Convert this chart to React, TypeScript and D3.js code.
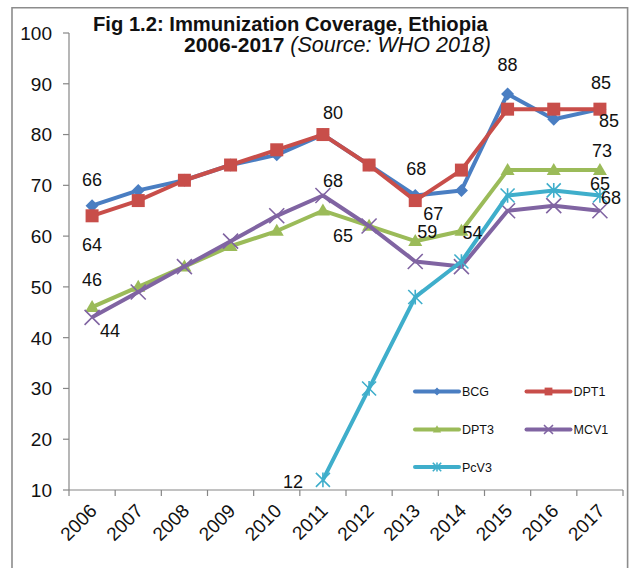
import React from "react";
import * as d3 from "d3";

// Coverage (%) by year, WHO 2018
const years = ["2006", "2007", "2008", "2009", "2010", "2011", "2012", "2013", "2014", "2015", "2016", "2017"];
const bcg = [66, 69, 71, 74, 76, 80, 74, 68, 69, 88, 83, 85];
const dpt1 = [64, 67, 71, 74, 77, 80, 74, 67, 73, 85, 85, 85];
const dpt3 = [46, 50, 54, 58, 61, 65, 62, 59, 61, 73, 73, 73];
const mcv1 = [44, 49, 54, 59, 64, 68, 62, 55, 54, 65, 66, 65];
const pcv3 = [null, null, null, null, null, 12, 30, 48, 55, 68, 69, 68];
const yTicks = [10, 20, 30, 40, 50, 60, 70, 80, 90, 100];

type Marker = "diamond" | "square" | "triangle" | "cross" | "star";

const series: { name: string; values: (number | null)[]; color: string; marker: Marker }[] = [
  { name: "BCG", values: bcg, color: "#4A7EC2", marker: "diamond" },
  { name: "DPT1", values: dpt1, color: "#C84E4A", marker: "square" },
  { name: "DPT3", values: dpt3, color: "#9BBB59", marker: "triangle" },
  { name: "MCV1", values: mcv1, color: "#8064A2", marker: "cross" },
  { name: "PcV3", values: pcv3, color: "#3FAECB", marker: "star" },
];

// Which points carry a value label, and where the label sits relative to the point
const labelPlacement: { s: string; year: string; dx: number; dy: number }[] = [
  { s: "BCG", year: "2006", dx: 0, dy: -26 },
  { s: "DPT1", year: "2006", dx: 0, dy: 29 },
  { s: "DPT3", year: "2006", dx: 0, dy: -28 },
  { s: "MCV1", year: "2006", dx: 18, dy: 13 },
  { s: "DPT1", year: "2011", dx: 10, dy: -22 },
  { s: "MCV1", year: "2011", dx: 10, dy: -15 },
  { s: "DPT3", year: "2011", dx: 20, dy: 25 },
  { s: "PcV3", year: "2011", dx: -30, dy: 2 },
  { s: "BCG", year: "2013", dx: 1, dy: -27 },
  { s: "DPT1", year: "2013", dx: 18, dy: 13 },
  { s: "DPT3", year: "2013", dx: 12, dy: -10 },
  { s: "MCV1", year: "2014", dx: 11, dy: -34 },
  { s: "BCG", year: "2015", dx: 0, dy: -29 },
  { s: "DPT1", year: "2017", dx: 1, dy: -27 },
  { s: "BCG", year: "2017", dx: 9, dy: 11 },
  { s: "DPT3", year: "2017", dx: 2, dy: -20 },
  { s: "MCV1", year: "2017", dx: 0, dy: -27 },
  { s: "PcV3", year: "2017", dx: 11, dy: 2 },
];

const W = 632;
const H = 568;
const plot = { left: 69, right: 623, top: 33, bottom: 490 };
const FONT = "'Liberation Sans', Arial, sans-serif";

function MarkerShape({ type, x, y, color, k = 1 }: { type: Marker; x: number; y: number; color: string; k?: number }) {
  if (type === "diamond") {
    const r = 6.5 * k;
    return <path d={`M${x},${y - r}L${x + r},${y}L${x},${y + r}L${x - r},${y}Z`} fill={color} />;
  }
  if (type === "square") {
    const r = 6.5 * k;
    return <rect x={x - r} y={y - r} width={2 * r} height={2 * r} fill={color} />;
  }
  if (type === "triangle") {
    const w = 7 * k;
    const h = 12 * k;
    return <path d={`M${x},${y - h * 0.6}L${x + w},${y + h * 0.4}L${x - w},${y + h * 0.4}Z`} fill={color} />;
  }
  if (type === "cross") {
    const r = 7.5 * k;
    return (
      <path d={`M${x - r},${y - r}L${x + r},${y + r}M${x - r},${y + r}L${x + r},${y - r}`} stroke={color} strokeWidth={1.6} fill="none" />
    );
  }
  const r = 7 * k;
  return (
    <path
      d={`M${x - r},${y - r}L${x + r},${y + r}M${x - r},${y + r}L${x + r},${y - r}M${x},${y - r * 1.05}L${x},${y + r * 1.05}`}
      stroke={color}
      strokeWidth={1.6}
      fill="none"
    />
  );
}

export default function App() {
  const x = d3.scaleBand<string>().domain(years).range([plot.left, plot.right]).paddingInner(0).paddingOuter(0);
  const y = d3.scaleLinear().domain([10, 100]).range([plot.bottom, plot.top]);
  const cx = (yr: string) => (x(yr) as number) + x.bandwidth() / 2;

  const line = d3
    .line<number | null>()
    .defined((v) => v !== null)
    .x((_, i) => cx(years[i]))
    .y((v) => y(v as number));

  const boundaries = years.map((yr) => x(yr) as number).concat([plot.right]);

  const legendItems = [
    { s: series[0], lx: 415, ly: 391.5 },
    { s: series[1], lx: 526.5, ly: 391.5 },
    { s: series[2], lx: 415, ly: 429.5 },
    { s: series[3], lx: 526.5, ly: 429.5 },
    { s: series[4], lx: 415, ly: 467 },
  ];

  return (
    <svg width={W} height={H} style={{ position: "absolute", left: 0, top: 0, background: "#fff" }} fontFamily={FONT}>
      <rect x={0} y={0} width={W} height={H} fill="#fff" />
      {/* outer frame */}
      <path d={`M12,${H + 2}L12,7.8L627.6,7.8L627.6,${H + 2}`} fill="none" stroke="#8c8c8c" strokeWidth={1.6} />

      {/* title */}
      <text x={93} y={30.5} fontSize={20.2} fontWeight="bold" fill="#111">
        Fig 1.2: Immunization Coverage, Ethiopia
      </text>
      <text x={184} y={52} fontSize={21} fill="#111">
        <tspan fontWeight="bold">2006-2017 </tspan>
        <tspan fontStyle="italic" fontSize={21.5}>(Source: WHO 2018)</tspan>
      </text>

      {/* y axis */}
      <line x1={plot.left} x2={plot.left} y1={plot.top} y2={plot.bottom} stroke="#868686" strokeWidth={1.2} />
      {yTicks.map((t) => (
        <g key={t}>
          <line x1={plot.left - 6} x2={plot.left} y1={y(t)} y2={y(t)} stroke="#868686" strokeWidth={1.2} />
          <text x={52} y={y(t)} dy="0.36em" textAnchor="end" fontSize={19} fill="#111">
            {t}
          </text>
        </g>
      ))}

      {/* x axis */}
      <line x1={plot.left} x2={plot.right} y1={plot.bottom} y2={plot.bottom} stroke="#868686" strokeWidth={1.2} />
      {boundaries.map((b, i) => (
        <line key={i} x1={b} x2={b} y1={plot.bottom} y2={plot.bottom + 6} stroke="#868686" strokeWidth={1.2} />
      ))}
      {years.map((yr) => (
        <text
          key={yr}
          transform={`translate(${cx(yr) + 6},${plot.bottom + 22}) rotate(-45)`}
          textAnchor="end"
          fontSize={19}
          fill="#111"
        >
          {yr}
        </text>
      ))}

      {/* series lines and markers */}
      {series.map((s) => (
        <g key={s.name}>
          <path d={line(s.values) || ""} fill="none" stroke={s.color} strokeWidth={4} strokeLinejoin="round" />
          {s.values.map((v, i) =>
            v === null ? null : <MarkerShape key={i} type={s.marker} x={cx(years[i])} y={y(v)} color={s.color} />
          )}
        </g>
      ))}

      {/* value labels */}
      {labelPlacement.map((p, i) => {
        const s = series.find((d) => d.name === p.s)!;
        const idx = years.indexOf(p.year);
        const v = s.values[idx] as number;
        return (
          <text key={i} x={cx(p.year) + p.dx} y={y(v) + p.dy} dy="0.36em" textAnchor="middle" fontSize={18} fill="#111">
            {v}
          </text>
        );
      })}

      {/* legend */}
      {legendItems.map(({ s, lx, ly }) => (
        <g key={s.name}>
          <line x1={lx} x2={lx + 44} y1={ly} y2={ly} stroke={s.color} strokeWidth={4} strokeLinecap="round" />
          <MarkerShape type={s.marker} x={lx + 22} y={ly} color={s.color} k={0.6} />
          <text x={lx + 47} y={ly} dy="0.36em" fontSize={12.5} fill="#111">
            {s.name}
          </text>
        </g>
      ))}
    </svg>
  );
}
